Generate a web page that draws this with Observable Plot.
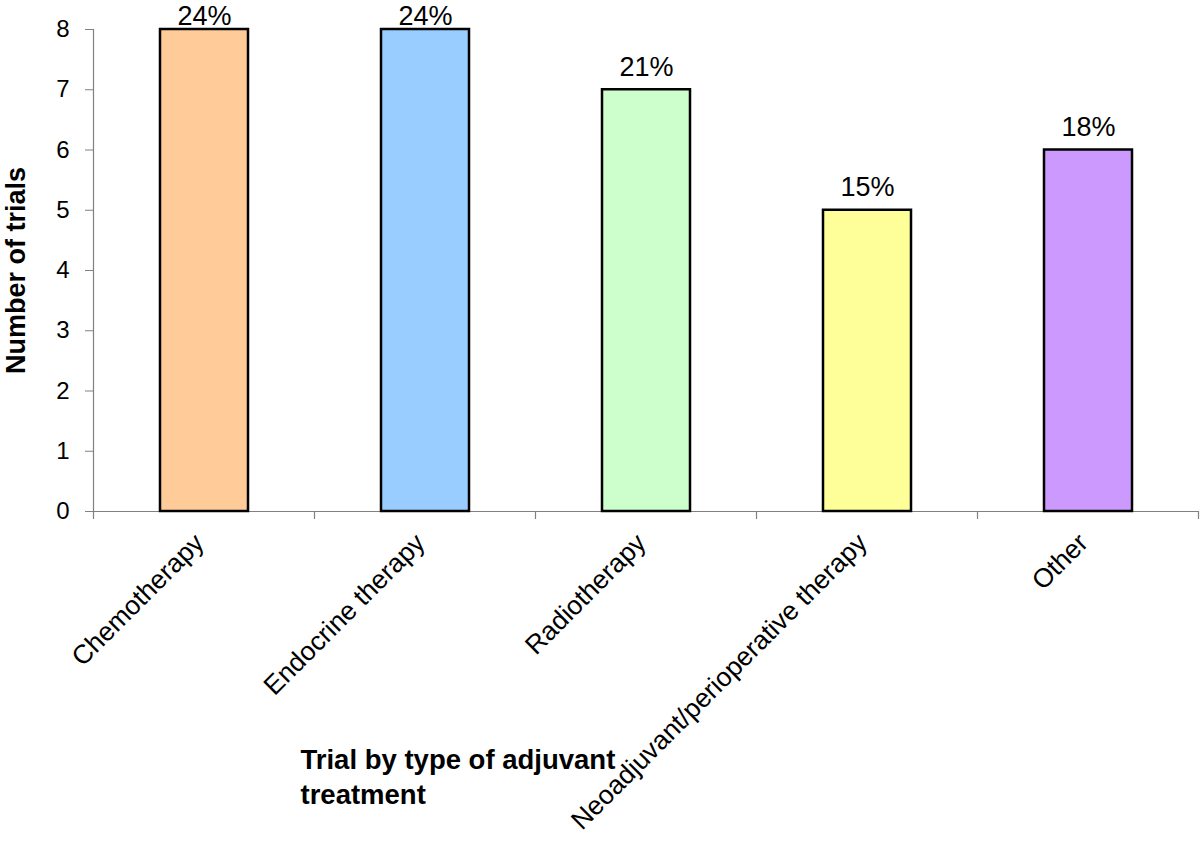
<!DOCTYPE html>
<html>
<head>
<meta charset="utf-8">
<script src="https://cdn.jsdelivr.net/npm/d3@7"></script>
<script src="https://cdn.jsdelivr.net/npm/@observablehq/plot@0.6"></script>
<style>
  html, body { margin: 0; padding: 0; background: #ffffff; }
  #chart { width: 1200px; height: 841px; }
</style>
</head>
<body>
<div id="chart"></div>
<script>
// ---- Data ----
const categories = ["Chemotherapy", "Endocrine therapy", "Radiotherapy", "Neoadjuvant/perioperative therapy", "Other"];
const trials = [8, 8, 7, 5, 6];
const percents = ["24%", "24%", "21%", "15%", "18%"];
const colors = ["#FFCC99", "#99CCFF", "#CCFFCC", "#FFFF99", "#CC99FF"];
const yTicks = [0, 1, 2, 3, 4, 5, 6, 7, 8];
const yLabel = "Number of trials";
const xLabel = "Trial by type of adjuvant\ntreatment";

const data = categories.map((c, i) => ({category: c, trials: trials[i], pct: percents[i]}));

const font = "'Liberation Sans', Arial, Helvetica, sans-serif";
const axisGray = "#808080";

// Tick marks at the band boundaries plus the y axis line, drawn through the scales
function frameTicks(index, scales) {
  const x = scales.x, y = scales.y;
  const bw = x.bandwidth();
  const step = x.step();
  const y0 = y(0);
  const yTop = y(d3.max(yTicks));
  const edges = [x(categories[0]) + bw / 2 - step / 2].concat(categories.map(c => x(c) + bw / 2 + step / 2));
  const g = d3.create("svg:g").attr("stroke", axisGray).attr("stroke-width", 1.2).attr("fill", "none");
  g.append("line").attr("x1", edges[0]).attr("x2", edges[0]).attr("y1", y0).attr("y2", yTop);
  for (const e of edges) {
    g.append("line").attr("x1", e).attr("x2", e).attr("y1", y0).attr("y2", y0 + 8);
  }
  return g.node();
}

const chart = Plot.plot({
  width: 1200,
  height: 841,
  marginLeft: 93,
  marginRight: 1,
  marginTop: 29,
  marginBottom: 330,
  style: {fontFamily: font, fontSize: "24px", background: "#ffffff", color: "#000000", overflow: "visible"},
  x: {type: "band", domain: categories, paddingInner: 0.6, paddingOuter: 0.3, axis: null},
  y: {domain: [0, 8], axis: null},
  color: {domain: categories, range: colors},
  marks: [
    Plot.ruleY([0], {stroke: axisGray, strokeWidth: 1.2}),
    frameTicks,
    Plot.axisY(yTicks, {tickSize: 8, tickPadding: 16, tickFormat: d3.format("d"), fontSize: 24, stroke: axisGray, fill: "#000000", label: null}),
    Plot.barY(data, {x: "category", y: "trials", fill: "category", stroke: "#000000", strokeWidth: 2.5}),
    // value labels; the label is held inside the plot top (as in the original) for the tallest bars
    Plot.text(data, {x: "category", y: d => Math.min(d.trials, 7.85), text: "pct", dy: -14, lineAnchor: "bottom", fontSize: 27, fill: "#000000"}),
    // rotated category labels
    Plot.text(data, {x: "category", frameAnchor: "bottom", text: "category", rotate: -45, textAnchor: "end", lineAnchor: "bottom", dx: 1, dy: 33, fontSize: 26.5, fill: "#000000"}),
    // axis titles
    Plot.text([yLabel], {frameAnchor: "left", dx: -77, rotate: -90, text: d => d, textAnchor: "middle", lineAnchor: "middle", fontSize: 27, fontWeight: "bold", fill: "#000000"}),
    Plot.text([xLabel], {frameAnchor: "bottom-left", dx: 207, dy: 233, text: d => d, textAnchor: "start", lineAnchor: "top", lineHeight: 1.27, fontSize: 27.5, fontWeight: "bold", fill: "#000000"})
  ]
});

document.getElementById("chart").appendChild(chart);
</script>
</body>
</html>
